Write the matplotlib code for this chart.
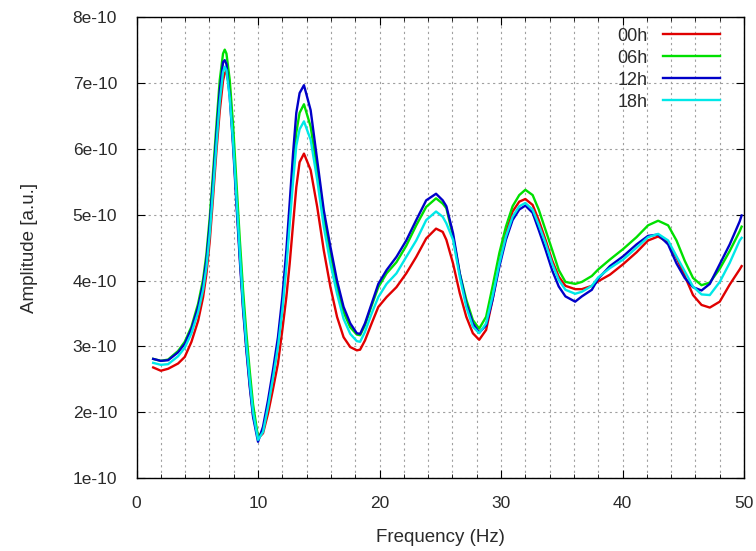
import matplotlib
matplotlib.use("Agg")
import matplotlib.pyplot as plt
from matplotlib.ticker import FuncFormatter
import numpy as np

# frequency samples (Hz)
freq = [1.37, 2.0, 2.6, 3.42, 3.97, 4.52, 5.07, 5.48, 5.75, 6.03, 6.3, 6.58, 6.85, 7.12,
        7.26, 7.4, 7.67, 7.95, 8.22, 8.5, 8.77, 9.04, 9.32, 9.59, 10.0, 10.41, 10.82,
        11.23, 11.64, 12.0, 12.33, 12.6, 12.88, 13.15, 13.42,
        13.78, 14.33, 14.87, 15.41, 15.96, 16.5, 17.04, 17.59, 18.13, 18.4, 18.8, 19.35,
        19.9, 20.58, 21.39, 22.2, 23.02, 23.84, 24.65, 25.2,
        25.5, 26.05, 26.6, 27.14, 27.68, 28.2, 28.77, 29.3, 29.86, 30.4, 30.95, 31.5,
        32.0, 32.6, 33.1, 33.66, 34.2, 34.75, 35.3, 36.1, 36.65, 37.47, 38.0,
        38.96, 40.05, 41.15, 42.1, 42.93, 43.75, 44.44, 45.12, 45.8, 46.5, 47.18, 48.0,
        48.82, 49.64, 49.8]

# amplitudes in units of 1e-10
amp_00h = [2.68, 2.63, 2.66, 2.74, 2.84, 3.07, 3.39, 3.75, 4.10, 4.61, 5.27, 5.98, 6.58, 7.04,
           7.15, 7.19, 6.90, 6.10, 5.25, 4.38, 3.60, 2.98, 2.42, 1.96, 1.60, 1.68, 1.98,
           2.35, 2.74, 3.25, 3.75, 4.25, 4.85, 5.42, 5.80,
           5.93, 5.68, 5.12, 4.46, 3.90, 3.45, 3.14, 2.99, 2.94, 2.95, 3.09, 3.35,
           3.60, 3.75, 3.90, 4.11, 4.36, 4.64, 4.79, 4.74,
           4.62, 4.26, 3.81, 3.45, 3.20, 3.10, 3.25, 3.71, 4.26, 4.72, 5.05, 5.20,
           5.24, 5.15, 4.92, 4.62, 4.31, 4.06, 3.92, 3.87, 3.87, 3.92, 3.99,
           4.09, 4.25, 4.43, 4.61, 4.67, 4.58, 4.35, 4.07, 3.78, 3.63, 3.59, 3.68,
           3.94, 4.17, 4.22]
amp_06h = [2.81, 2.78, 2.80, 2.93, 3.07, 3.30, 3.65, 4.02, 4.40, 4.97, 5.65, 6.38, 7.05, 7.45,
           7.51, 7.45, 7.05, 6.35, 5.50, 4.62, 3.85, 3.20, 2.62, 2.12, 1.62, 1.72, 2.10,
           2.55, 3.05, 3.62, 4.30, 4.98, 5.70, 6.25, 6.55,
           6.68, 6.34, 5.68, 4.97, 4.41, 3.90, 3.52, 3.29, 3.18, 3.17, 3.32, 3.62,
           3.90, 4.11, 4.28, 4.53, 4.84, 5.12, 5.25, 5.17,
           5.10, 4.67, 4.11, 3.71, 3.40, 3.27, 3.45, 3.91, 4.42, 4.82, 5.13, 5.30,
           5.38, 5.30, 5.08, 4.77, 4.47, 4.16, 3.98, 3.95, 3.98, 4.07, 4.17,
           4.32, 4.48, 4.66, 4.84, 4.91, 4.84, 4.61, 4.30, 4.04, 3.93, 3.97, 4.18,
           4.45, 4.75, 4.82]
amp_12h = [2.81, 2.78, 2.79, 2.91, 3.04, 3.27, 3.60, 3.95, 4.31, 4.86, 5.52, 6.23, 6.89, 7.32,
           7.35, 7.29, 6.79, 6.03, 5.17, 4.31, 3.55, 2.94, 2.38, 1.93, 1.55, 1.78, 2.18,
           2.64, 3.14, 3.75, 4.46, 5.17, 5.93, 6.55, 6.85,
           6.97, 6.59, 5.83, 5.07, 4.51, 4.00, 3.60, 3.35, 3.20, 3.19, 3.35, 3.65,
           3.95, 4.16, 4.36, 4.61, 4.92, 5.22, 5.32, 5.22,
           5.13, 4.72, 4.11, 3.65, 3.35, 3.21, 3.32, 3.71, 4.21, 4.62, 4.92, 5.08,
           5.14, 5.03, 4.77, 4.47, 4.16, 3.91, 3.76, 3.68, 3.76, 3.86, 4.03,
           4.22, 4.37, 4.55, 4.68, 4.70, 4.55, 4.26, 4.04, 3.90, 3.85, 3.95, 4.25,
           4.55, 4.90, 4.99]
amp_18h = [2.75, 2.72, 2.73, 2.85, 2.98, 3.20, 3.52, 3.86, 4.20, 4.72, 5.38, 6.08, 6.72, 7.17,
           7.25, 7.20, 6.78, 6.10, 5.28, 4.42, 3.65, 3.03, 2.47, 2.00, 1.58, 1.70, 2.08,
           2.52, 3.00, 3.55, 4.20, 4.85, 5.50, 6.05, 6.30,
           6.42, 6.14, 5.53, 4.82, 4.26, 3.80, 3.42, 3.19, 3.08, 3.07, 3.22, 3.50,
           3.75, 3.95, 4.11, 4.36, 4.61, 4.92, 5.05, 4.97,
           4.87, 4.62, 4.06, 3.60, 3.30, 3.20, 3.35, 3.76, 4.26, 4.67, 4.97, 5.13,
           5.18, 5.08, 4.85, 4.57, 4.26, 4.01, 3.86, 3.80, 3.83, 3.92, 4.05,
           4.19, 4.32, 4.50, 4.66, 4.71, 4.61, 4.37, 4.14, 3.91, 3.79, 3.78, 3.98,
           4.27, 4.61, 4.65]

labels = ["00h", "06h", "12h", "18h"]
colors = ["#e00000", "#00e000", "#0000c8", "#00e8e8"]
x_major = [0, 10, 20, 30, 40, 50]
x_minor = list(range(0, 51, 2))
y_major = [1, 2, 3, 4, 5, 6, 7, 8]

plt.rcParams['font.family'] = ['Liberation Sans', 'DejaVu Sans']
text_color = '#2a2a2a'

fig = plt.figure(figsize=(7.56, 5.51), dpi=100)
ax = fig.add_axes([0.1806, 0.1325, 0.8036, 0.8359])

for series, lab, col in zip([amp_00h, amp_06h, amp_12h, amp_18h], labels, colors):
    ax.plot(freq, np.array(series) * 1e-10, color=col, lw=1.7, label=lab)

ax.set_xlim(0, 50)
ax.set_ylim(1e-10, 8e-10)
ax.set_xticks(x_major)
ax.set_xticks(x_minor, minor=True)
ax.set_yticks([v * 1e-10 for v in y_major])
ax.yaxis.set_major_formatter(FuncFormatter(lambda v, p: "%de-10" % round(v / 1e-10)))

ax.grid(True, which='both', axis='x', color='#a0a0a0', linestyle=(0, (2, 3)), lw=0.8)
ax.grid(True, which='major', axis='y', color='#a0a0a0', linestyle=(0, (2, 3)), lw=0.8)
ax.tick_params(which='both', direction='in', top=True, right=True,
               labelsize=12.5, colors='black', labelcolor=text_color)
ax.tick_params(axis='y', pad=14)
ax.tick_params(axis='x', pad=13)
ax.tick_params(which='major', length=6)
ax.tick_params(which='minor', length=3)
for s in ax.spines.values():
    s.set_linewidth(1.0)

ax.set_xlabel("Frequency (Hz)", fontsize=13.5, color=text_color, labelpad=13)
ax.set_ylabel("Amplitude [a.u.]", fontsize=13.5, color=text_color, labelpad=25)

leg = ax.legend(loc='upper right', frameon=False, markerfirst=False, fontsize=13,
                handlelength=3.15, handletextpad=0.85, labelspacing=0.28,
                borderaxespad=0, borderpad=0, bbox_to_anchor=(0.9605, 0.978))
for t in leg.get_texts():
    t.set_color(text_color)

fig.savefig("out.png", dpi=100)
